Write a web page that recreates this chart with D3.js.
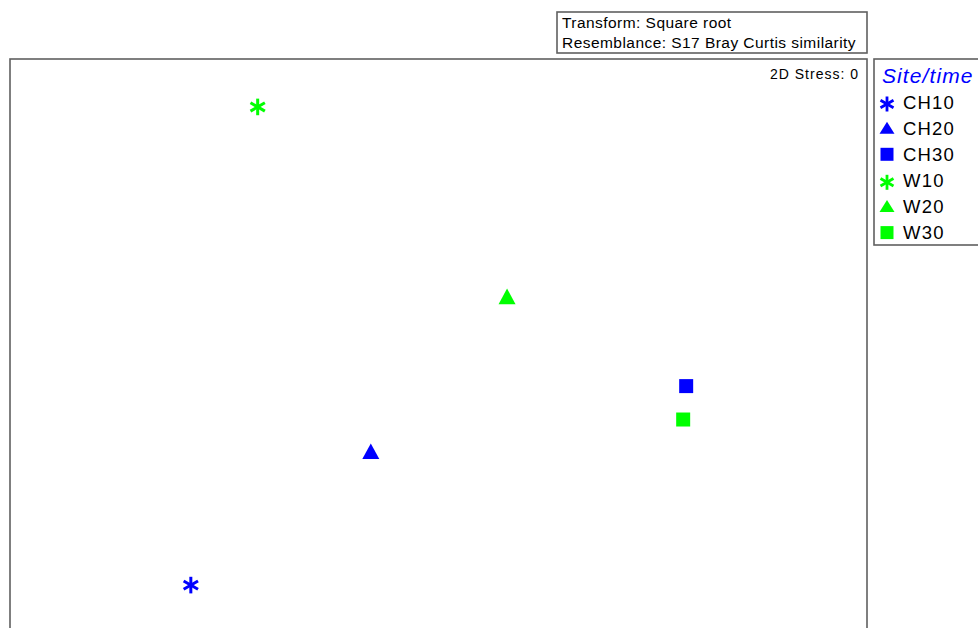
<!DOCTYPE html>
<html>
<head>
<meta charset="utf-8">
<script src="https://cdn.jsdelivr.net/npm/d3@7"></script>
<style>
  html, body { margin: 0; padding: 0; background: #fff; }
  svg { display: block; font-family: "Liberation Sans", Arial, sans-serif; }
</style>
</head>
<body>
<svg id="chart" width="978" height="628"></svg>
<script>
// nMDS ordination scores (square-root transform, Bray-Curtis similarity)
const samples = ["CH10", "CH20", "CH30", "W10", "W20", "W30"];
const mds1 = [-0.578, -0.158, 0.578, -0.422, 0.160, 0.571];
const mds2 = [-0.811, -0.359, -0.126, 0.835, 0.174, -0.241];
const site = ["CH", "CH", "CH", "W", "W", "W"];
const time = ["10", "20", "30", "10", "20", "30"];
const stress = 0;
const infoLines = ["Transform: Square root", "Resemblance: S17 Bray Curtis similarity"];
const legendTitle = "Site/time";

const svg = d3.select("#chart");

const color = d3.scaleOrdinal().domain(["CH", "W"]).range(["#0000ff", "#00ff00"]);
const shape = d3.scaleOrdinal().domain(["10", "20", "30"]).range(["asterisk", "triangle", "square"]);

// plotting frame (extends below the visible area)
const frame = { left: 10, top: 59, right: 867, bottom: 640 };
const x = d3.scaleLinear().domain([-1, 1]).range([frame.left, frame.right]);
const y = d3.scaleLinear().domain([-1, 1]).range([frame.bottom, frame.top]);

svg.append("rect")
  .attr("x", frame.left).attr("y", frame.top)
  .attr("width", frame.right - frame.left).attr("height", frame.bottom - frame.top)
  .attr("fill", "none").attr("stroke", "#606060").attr("stroke-width", 1.6);

// info box above the frame
const info = svg.append("g");
info.append("rect")
  .attr("x", 557).attr("y", 12).attr("width", 310).attr("height", 41)
  .attr("fill", "#fff").attr("stroke", "#606060").attr("stroke-width", 1.6);
info.selectAll("text").data(infoLines).join("text")
  .attr("x", 562).attr("y", (d, i) => 28 + i * 20)
  .attr("font-size", 15.5).attr("letter-spacing", 0.45).attr("fill", "#000").text(d => d);

// stress annotation
svg.append("text")
  .attr("x", 859).attr("y", 79).attr("text-anchor", "end")
  .attr("font-size", 14).attr("letter-spacing", 1).attr("fill", "#000")
  .text("2D Stress: " + stress);

// marker drawing: m = {r: asterisk arm, tw: triangle width, th: triangle height, sq: square side}
function drawMarker(g, kind, fill, m) {
  if (kind === "asterisk") {
    const r = m.r;
    const lines = [90, 30, -30].map(a => {
      const t = a * Math.PI / 180;
      return [-r * Math.cos(t), -r * Math.sin(t), r * Math.cos(t), r * Math.sin(t)];
    });
    g.selectAll("line").data(lines).join("line")
      .attr("x1", d => d[0]).attr("y1", d => d[1])
      .attr("x2", d => d[2]).attr("y2", d => d[3])
      .attr("stroke", fill).attr("stroke-width", m.sw);
  } else if (kind === "triangle") {
    const w = m.tw, h = m.th;
    g.append("path")
      .attr("d", d3.line()([[0, -2 * h / 3], [w / 2, h / 3], [-w / 2, h / 3]]) + "Z")
      .attr("fill", fill);
  } else {
    g.append("path")
      .attr("d", d3.symbol(d3.symbolSquare, m.sq * m.sq)())
      .attr("fill", fill);
  }
}

const plotMarker = { r: 8.3, sw: 3, tw: 17, th: 15.6, sq: 14 };
const legendMarker = { r: 7.5, sw: 2.8, tw: 15, th: 12, sq: 13 };
const legendOffset = { asterisk: -4.5, triangle: -4.8, square: -6.4 };

// points
const pts = svg.append("g");
samples.forEach((name, i) => {
  const g = pts.append("g").attr("transform", `translate(${x(mds1[i])},${y(mds2[i])})`);
  drawMarker(g, shape(time[i]), color(site[i]), plotMarker);
});

// legend
const legend = svg.append("g");
legend.append("rect")
  .attr("x", 874).attr("y", 59).attr("width", 110).attr("height", 186)
  .attr("fill", "#fff").attr("stroke", "#606060").attr("stroke-width", 1.6);
legend.append("text")
  .attr("x", 882).attr("y", 82.5)
  .attr("font-size", 21).attr("letter-spacing", 1.1).attr("font-style", "italic").attr("fill", "#0000ff")
  .text(legendTitle);
samples.forEach((name, i) => {
  const base = 108.5 + i * 26.1;
  const kind = shape(time[i]);
  const g = legend.append("g").attr("transform", `translate(887,${base + legendOffset[kind]})`);
  drawMarker(g, kind, color(site[i]), legendMarker);
  legend.append("text")
    .attr("x", 903).attr("y", base)
    .attr("font-size", 18.5).attr("letter-spacing", 1.2).attr("fill", "#000")
    .text(name);
});
</script>
</body>
</html>
